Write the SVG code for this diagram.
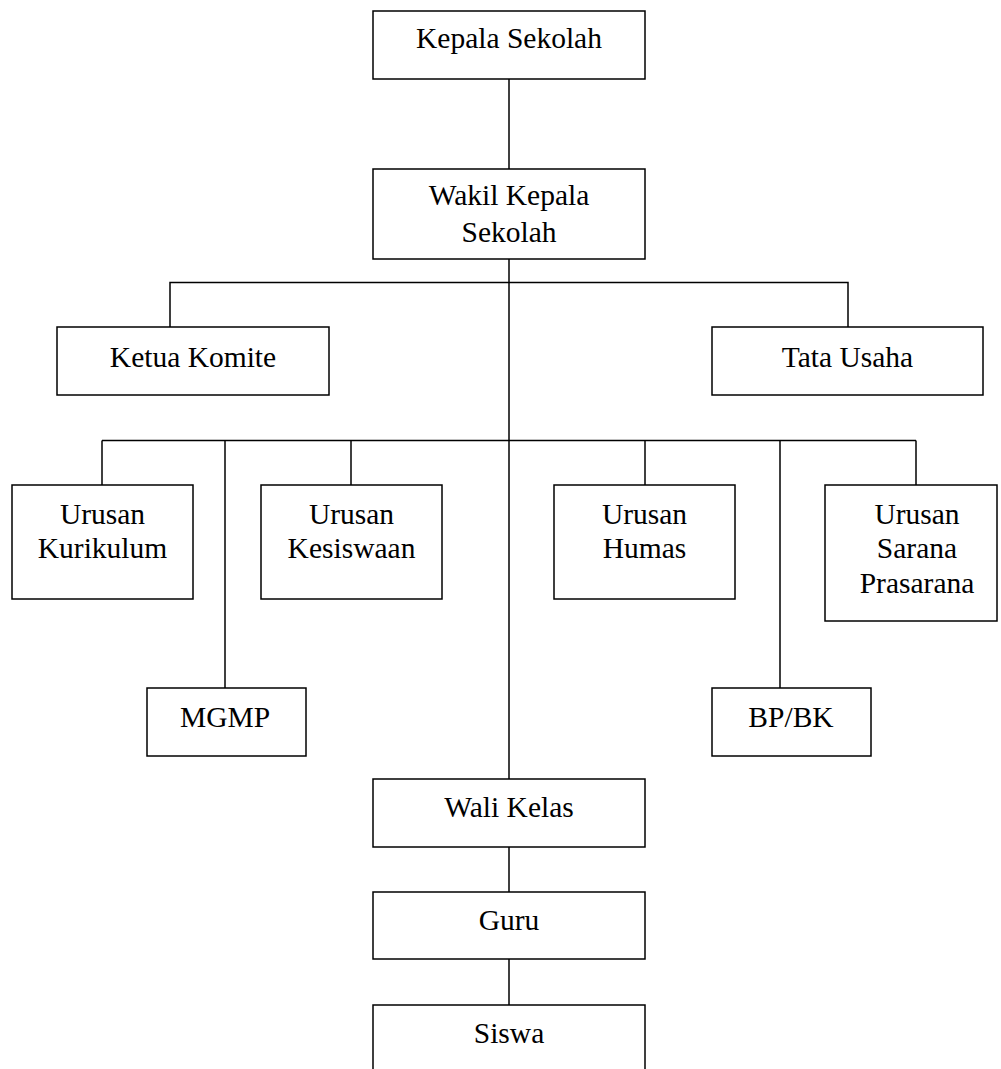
<svg xmlns="http://www.w3.org/2000/svg" width="1001" height="1069" viewBox="0 0 1001 1069">
<style>
.box{fill:#fff;stroke:#000;stroke-width:1.5}
.ln{fill:none;stroke:#000;stroke-width:1.5}
text{font-family:"Liberation Serif","Times New Roman",serif;font-size:29.5px;fill:#000;text-anchor:middle}
</style>
<rect width="1001" height="1069" fill="#fff"/>
<g id="connectors">
<line class="ln" x1="509" y1="79" x2="509" y2="169"/>
<line class="ln" x1="509" y1="259" x2="509" y2="779"/>
<polyline class="ln" points="170,327 170,282.5 848,282.5 848,327"/>
<line class="ln" x1="102" y1="440.5" x2="916" y2="440.5"/>
<line class="ln" x1="102" y1="440.5" x2="102" y2="485"/>
<line class="ln" x1="225" y1="440.5" x2="225" y2="688"/>
<line class="ln" x1="351" y1="440.5" x2="351" y2="485"/>
<line class="ln" x1="645" y1="440.5" x2="645" y2="485"/>
<line class="ln" x1="780" y1="440.5" x2="780" y2="688"/>
<line class="ln" x1="916" y1="440.5" x2="916" y2="485"/>
<line class="ln" x1="509" y1="847" x2="509" y2="892"/>
<line class="ln" x1="509" y1="959" x2="509" y2="1005"/>
</g>
<g id="kepala"><rect class="box" x="373" y="11" width="272" height="68"/><text x="509" y="48">Kepala Sekolah</text></g>
<g id="wakil"><rect class="box" x="373" y="169" width="272" height="90"/><text x="509" y="205">Wakil Kepala</text><text x="509" y="242">Sekolah</text></g>
<g id="komite"><rect class="box" x="57" y="327" width="272" height="68"/><text x="193" y="367">Ketua Komite</text></g>
<g id="tu"><rect class="box" x="712" y="327" width="271" height="68"/><text x="847.5" y="367">Tata Usaha</text></g>
<g id="kurikulum"><rect class="box" x="12" y="485" width="181" height="114"/><text x="102.5" y="524">Urusan</text><text x="102.5" y="558">Kurikulum</text></g>
<g id="kesiswaan"><rect class="box" x="261" y="485" width="181" height="114"/><text x="351.5" y="524">Urusan</text><text x="351.5" y="558">Kesiswaan</text></g>
<g id="humas"><rect class="box" x="554" y="485" width="181" height="114"/><text x="644.5" y="524">Urusan</text><text x="644.5" y="558">Humas</text></g>
<g id="sarana"><rect class="box" x="825" y="485" width="172" height="136"/><text x="917" y="524">Urusan</text><text x="917" y="558">Sarana</text><text x="917" y="593">Prasarana</text></g>
<g id="mgmp"><rect class="box" x="147" y="688" width="159" height="68"/><text x="225" y="727">MGMP</text></g>
<g id="bpbk"><rect class="box" x="712" y="688" width="159" height="68"/><text x="791" y="727">BP/BK</text></g>
<g id="wali"><rect class="box" x="373" y="779" width="272" height="68"/><text x="509" y="817">Wali Kelas</text></g>
<g id="guru"><rect class="box" x="373" y="892" width="272" height="67"/><text x="509" y="930">Guru</text></g>
<g id="siswa"><rect class="box" x="373" y="1005" width="272" height="80"/><text x="509" y="1043">Siswa</text></g>
</svg>
